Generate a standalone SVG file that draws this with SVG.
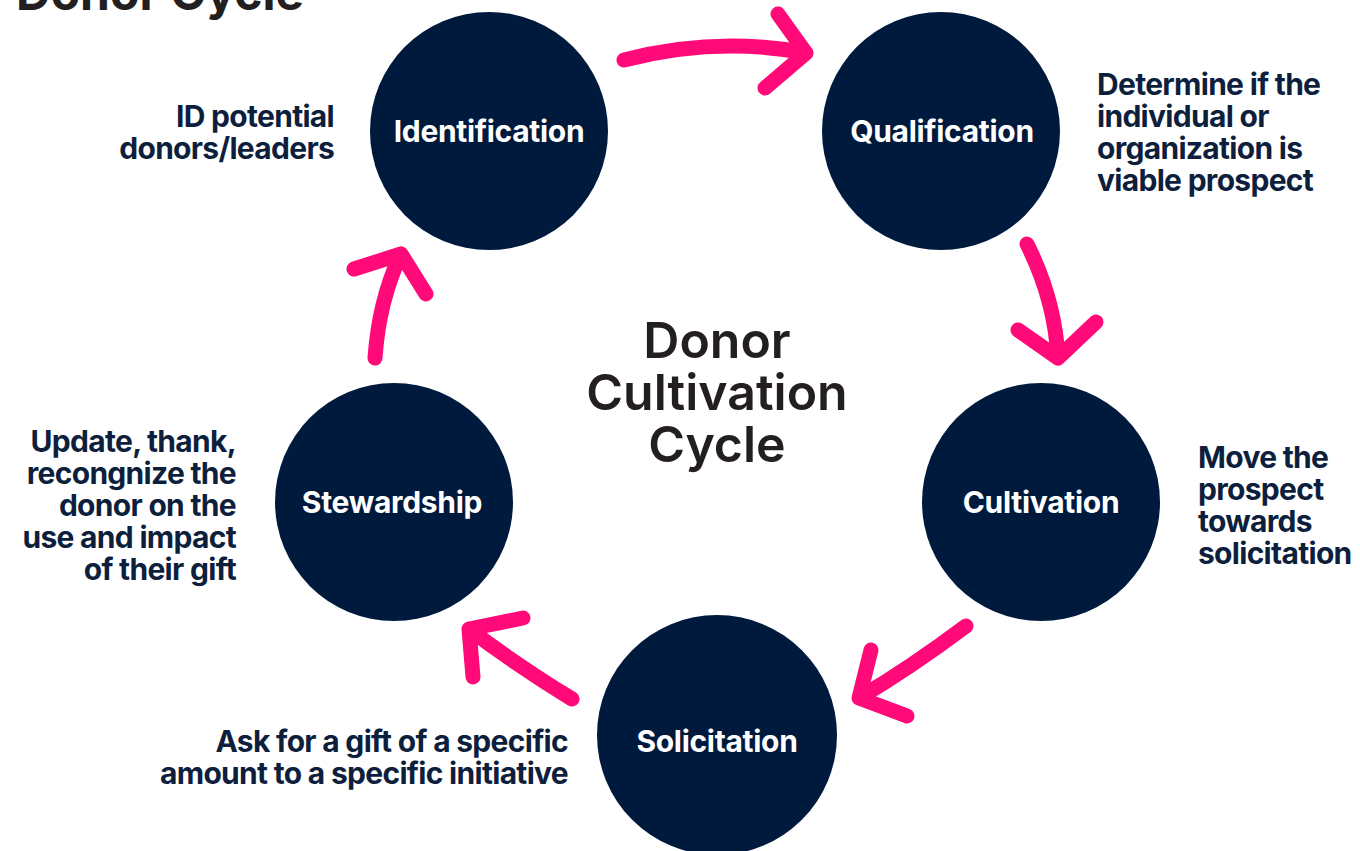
<svg xmlns="http://www.w3.org/2000/svg" width="1360" height="851" viewBox="0 0 1360 851">
<defs>
<style>
.node{fill:#001a3d}
.lbl{fill:#ffffff;font-family:Inter,"Liberation Sans",sans-serif;font-weight:700;font-size:30px;text-anchor:middle;letter-spacing:-0.3px}
.ann{fill:#0e1f3d;font-family:Inter,"Liberation Sans",sans-serif;font-weight:700;font-size:30px;letter-spacing:-0.7px}
.r{text-anchor:end}
.title{fill:#231f20;font-family:Inter,"Liberation Sans",sans-serif;font-weight:600;font-size:50px;text-anchor:middle}
.top{fill:#231f20;font-family:Inter,"Liberation Sans",sans-serif;font-weight:700;font-size:48px}
.arr{fill:none;stroke:#ff0a78;stroke-width:15;stroke-linecap:round;stroke-linejoin:round}
</style>
</defs>
<rect width="1360" height="851" fill="#ffffff"/>
<text class="top" x="16" y="10">Donor Cycle</text>
<g id="connectors">
<path class="arr" d="M624,60 Q716,36 806,53 M778,14 L806,53 L765,88"/>
<path class="arr" d="M1027,244 Q1055,300 1058,358 M1018,330 L1058,358 L1096,322"/>
<path class="arr" d="M966,626 Q910,668 859,698 M871,650 L859,698 L907,716"/>
<path class="arr" d="M572,699 Q515,664 469,629 M523,618 L469,629 L473,677"/>
<path class="arr" d="M375,358 Q379,300 401,254 M354,269 L401,254 L426,294"/>
</g>
<g id="identification">
<circle class="node" cx="489" cy="131" r="119"/>
<text class="lbl" x="489" y="142">Identification</text>
</g>
<g id="qualification">
<circle class="node" cx="941" cy="131" r="119"/>
<text class="lbl" x="942" y="142">Qualification</text>
</g>
<g id="cultivation">
<circle class="node" cx="1041" cy="502" r="119"/>
<text class="lbl" x="1041" y="513">Cultivation</text>
</g>
<g id="solicitation">
<circle class="node" cx="717" cy="735" r="120"/>
<text class="lbl" x="717" y="752">Solicitation</text>
</g>
<g id="stewardship">
<circle class="node" cx="394" cy="502" r="119"/>
<text class="lbl" x="392" y="513">Stewardship</text>
</g>
<g id="center-title">
<text class="title" x="717" y="358">Donor</text>
<text class="title" x="717" y="410">Cultivation</text>
<text class="title" x="717" y="462">Cycle</text>
</g>
<g id="annotations">
<text class="ann r" x="334" y="127">ID potential</text>
<text class="ann r" x="334" y="159">donors/leaders</text>
<text class="ann" x="1097" y="95">Determine if the</text>
<text class="ann" x="1097" y="127">individual or</text>
<text class="ann" x="1097" y="159">organization is</text>
<text class="ann" x="1097" y="191">viable prospect</text>
<text class="ann" x="1198" y="468">Move the</text>
<text class="ann" x="1198" y="500">prospect</text>
<text class="ann" x="1198" y="532">towards</text>
<text class="ann" x="1198" y="564">solicitation</text>
<text class="ann r" x="236" y="452">Update, thank,</text>
<text class="ann r" x="236" y="484">recongnize the</text>
<text class="ann r" x="236" y="516">donor on the</text>
<text class="ann r" x="236" y="548">use and impact</text>
<text class="ann r" x="236" y="580">of their gift</text>
<text class="ann r" x="568" y="752">Ask for a gift of a specific</text>
<text class="ann r" x="568" y="784">amount to a specific initiative</text>
</g>
</svg>
